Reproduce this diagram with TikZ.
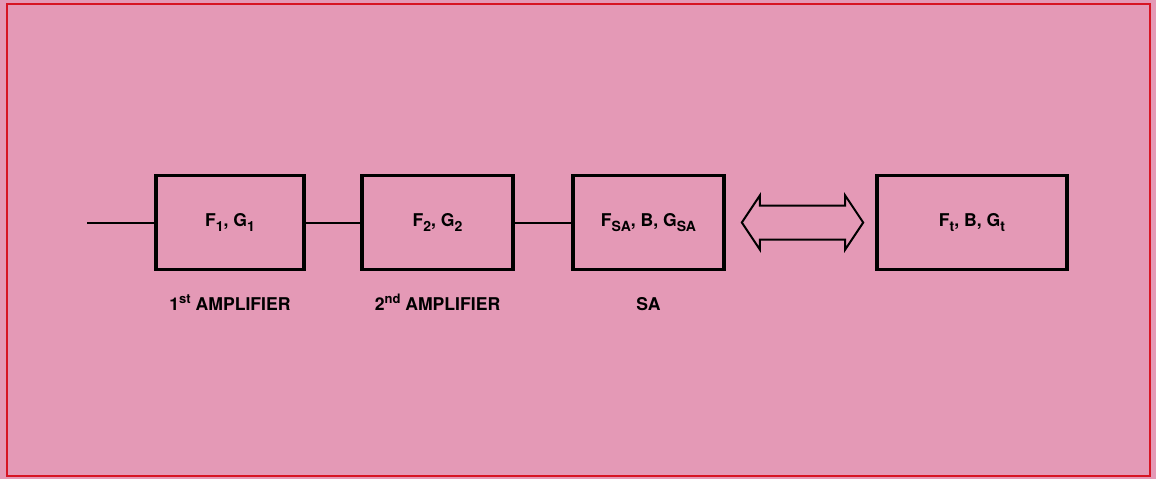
\documentclass[tikz,border=0pt]{standalone}
\usepackage{fontspec}
\setmainfont{TeX Gyre Heros}
\usetikzlibrary{calc}
\definecolor{sheet}{RGB}{228,153,182}
\definecolor{frame}{RGB}{215,20,35}
\newcommand{\lo}[1]{\raisebox{-.5ex}{\fontsize{7}{8}\selectfont #1}}
\newcommand{\hi}[1]{\raisebox{.7ex}{\fontsize{6.5}{7}\selectfont #1}}
\begin{document}
\begin{tikzpicture}[x=0.5pt,y=-0.5pt,
    box/.style={draw,line width=1.8pt,inner sep=0pt,minimum height=47pt,
      font=\fontsize{8.8}{10}\selectfont\bfseries},
    lbl/.style={anchor=base,inner sep=0pt,font=\fontsize{8.8}{10}\selectfont\bfseries},
    wire/.style={line width=1pt}]
  \fill[sheet] (0,0) rectangle (1156,479);
  \useasboundingbox (0,0) rectangle (1156,479);
  \draw[frame,line width=1.3pt] (7,4) rectangle (1150,476);

  \node[box,minimum width=74pt] (box1) at (230,222.5) {F\lo{1}, G\lo{1}};
  \node[box,minimum width=75.5pt] (box2) at (437.5,222.5) {F\lo{2}, G\lo{2}};
  \node[box,minimum width=75.5pt] (box3) at (648.5,222.5) {F\lo{SA}, B, G\lo{SA}};
  \node[box,minimum width=95pt] (box4) at (972,222.5) {F\lo{t}, B, G\lo{t}};

  \coordinate (in) at (87,222.5);
  \draw[wire] (in) -- (box1.west);
  \draw[wire] (box1.east) -- (box2.west);
  \draw[wire] (box2.east) -- (box3.west);

  % two-way arrow between SA and the test set
  \coordinate (al) at ($(box3.east)+(16,0)$);
  \coordinate (ar) at ($(box4.west)+(-12,0)$);
  \draw[wire,line join=miter] (al) -- ++(18,-27) -- ++(0,10) -- ($(ar)+(-18,-17)$)
    -- ++(0,-10) -- (ar) -- ++(-18,27) -- ++(0,-10) -- ($(al)+(18,17)$)
    -- ++(0,10) -- cycle;

  \node[lbl] (lab1) at (230,310) {1\hi{st} AMPLIFIER};
  \node[lbl] (lab2) at (437.5,310) {2\hi{nd} AMPLIFIER};
  \node[lbl] (lab3) at (648.5,310) {SA};
\end{tikzpicture}
\end{document}
